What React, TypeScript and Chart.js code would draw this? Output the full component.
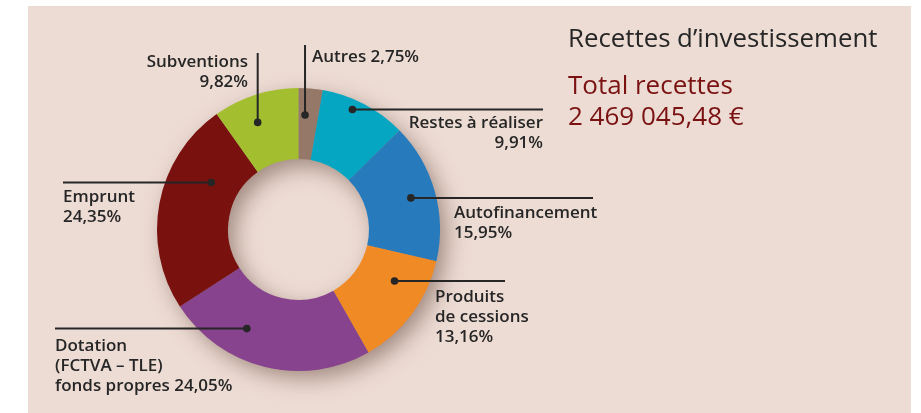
import React, { useEffect, useRef } from "react";
import { Chart, registerables } from "chart.js";

Chart.register(...registerables);

// ---- Data ----
const categories = [
  "Autres",
  "Restes à réaliser",
  "Autofinancement",
  "Produits de cessions",
  "Dotation (FCTVA – TLE) fonds propres",
  "Emprunt",
  "Subventions",
];
const shares = [2.75, 9.91, 15.95, 13.16, 24.05, 24.35, 9.82];
const sliceColors = ["#957868", "#05A6C2", "#277BBD", "#F08A24", "#87438D", "#79110E", "#A3BF30"];

const titleText = "Recettes d’investissement";
const totalLabel = "Total recettes";
const totalValue = "2 469 045,48 €";

const pct = (v: number) => v.toFixed(2).replace(".", ",") + "%";

const labelTexts: string[][] = [
  ["Autres " + pct(shares[0])],
  ["Restes à réaliser", pct(shares[1])],
  ["Autofinancement", pct(shares[2])],
  ["Produits", "de cessions", pct(shares[3])],
  ["Dotation", "(FCTVA – TLE)", "fonds propres " + pct(shares[4])],
  ["Emprunt", pct(shares[5])],
  ["Subventions", pct(shares[6])],
];

// ---- Layout for annotations (leader lines & text) ----
type LabelLayout = {
  f: number; // fraction along slice angle for the dot
  rf: number; // fraction of outer radius for the dot
  dir: "h" | "v";
  end: number; // x (h) or y (v) where leader ends
  tx: number;
  ty: number;
  align: CanvasTextAlign;
};
const labelLayout: LabelLayout[] = [
  { f: 0.33, rf: 0.81, dir: "v", end: 45, tx: 312, ty: 62, align: "left" },
  { f: 0.4, rf: 0.93, dir: "h", end: 543, tx: 543, ty: 128, align: "right" },
  { f: 0.5, rf: 0.825, dir: "h", end: 593, tx: 454, ty: 218, align: "left" },
  { f: 0.32, rf: 0.77, dir: "h", end: 505, tx: 435, ty: 302, align: "left" },
  { f: 0.66, rf: 0.79, dir: "h", end: 55, tx: 55, ty: 351, align: "left" },
  { f: 0.7, rf: 0.7, dir: "h", end: 63, tx: 63, ty: 202, align: "left" },
  { f: 0.41, rf: 0.81, dir: "v", end: 53, tx: 248, ty: 67, align: "right" },
];

const W = 921;
const H = 413;
const PANEL = { x: 28, y: 6, w: 883, h: 420, color: "#EDDCD4" };
const LABEL_FONT = "600 17px 'Open Sans', sans-serif";
const TITLE_FONT = "400 25.8px 'Open Sans', sans-serif";
const TOTAL_FONT = "400 26px 'Open Sans', sans-serif";
const INK = "#262626";
const DARK_RED = "#7A1212";

const panelPlugin = {
  id: "panel",
  beforeDraw(chart: any) {
    const ctx = chart.ctx;
    ctx.save();
    ctx.fillStyle = "#ffffff";
    ctx.fillRect(0, 0, chart.width, chart.height);
    ctx.fillStyle = PANEL.color;
    ctx.fillRect(PANEL.x, PANEL.y, PANEL.w, PANEL.h);
    ctx.restore();
  },
};

const shadowPlugin = {
  id: "ringShadow",
  beforeDatasetsDraw(chart: any) {
    const meta = chart.getDatasetMeta(0);
    if (!meta.data.length) return;
    const a: any = meta.data[0];
    const { x, y, outerRadius, innerRadius } = a.getProps(["x", "y", "outerRadius", "innerRadius"], true);
    const ctx = chart.ctx;
    ctx.save();
    ctx.beginPath();
    ctx.arc(x, y, outerRadius - 1, 0, Math.PI * 2, false);
    ctx.arc(x, y, innerRadius + 1, 0, Math.PI * 2, true);
    ctx.closePath();
    ctx.shadowColor = "rgba(95, 65, 55, 0.55)";
    ctx.shadowBlur = 22;
    ctx.shadowOffsetX = 7;
    ctx.shadowOffsetY = 8;
    ctx.fillStyle = "#9a8a84";
    ctx.fill("evenodd");
    ctx.restore();
  },
};

const labelPlugin = {
  id: "leaderLabels",
  afterDatasetsDraw(chart: any) {
    const ctx = chart.ctx;
    const meta = chart.getDatasetMeta(0);
    ctx.save();
    meta.data.forEach((arc: any, i: number) => {
      const L = labelLayout[i];
      if (!L) return;
      const { x, y, startAngle, endAngle, outerRadius } = arc.getProps(
        ["x", "y", "startAngle", "endAngle", "outerRadius"],
        true
      );
      const ang = startAngle + L.f * (endAngle - startAngle);
      const r = L.rf * outerRadius;
      const px = x + Math.cos(ang) * r;
      const py = y + Math.sin(ang) * r;
      ctx.strokeStyle = INK;
      ctx.lineWidth = 2;
      ctx.beginPath();
      ctx.moveTo(px, py);
      if (L.dir === "h") ctx.lineTo(L.end, py);
      else ctx.lineTo(px, L.end);
      ctx.stroke();
      ctx.fillStyle = INK;
      ctx.beginPath();
      ctx.arc(px, py, 3.8, 0, Math.PI * 2);
      ctx.fill();
      ctx.font = LABEL_FONT;
      ctx.textAlign = L.align;
      ctx.textBaseline = "alphabetic";
      labelTexts[i].forEach((t, k) => {
        ctx.fillText(t, L.tx, L.ty + k * 20);
      });
    });
    // Title block
    ctx.textAlign = "left";
    ctx.font = TITLE_FONT;
    ctx.fillStyle = INK;
    ctx.fillText(titleText, 568, 47);
    ctx.font = TOTAL_FONT;
    ctx.fillStyle = DARK_RED;
    ctx.fillText(totalLabel, 568, 94);
    ctx.fillText(totalValue, 568, 125);
    ctx.restore();
  },
};

export default function App() {
  const ref = useRef<HTMLCanvasElement | null>(null);
  useEffect(() => {
    document.body.style.margin = "0";
    const canvas = ref.current;
    if (!canvas) return;
    const chart = new Chart(canvas, {
      type: "doughnut",
      data: {
        labels: categories,
        datasets: [
          {
            data: shares,
            backgroundColor: sliceColors,
            borderWidth: 0,
          },
        ],
      },
      options: {
        animation: false,
        responsive: false,
        devicePixelRatio: 1,
        cutout: "49.8%",
        rotation: 0,
        layout: { padding: { left: 157, right: 481, top: 88, bottom: 42 } },
        plugins: {
          legend: { display: false },
          tooltip: { enabled: false },
          title: { display: false },
        },
      },
      plugins: [panelPlugin, shadowPlugin, labelPlugin],
    });
    return () => chart.destroy();
  }, []);
  return (
    <div style={{ width: W, height: H, position: "relative" }}>
      <canvas ref={ref} width={W} height={H} style={{ display: "block", width: W, height: H }} />
    </div>
  );
}
